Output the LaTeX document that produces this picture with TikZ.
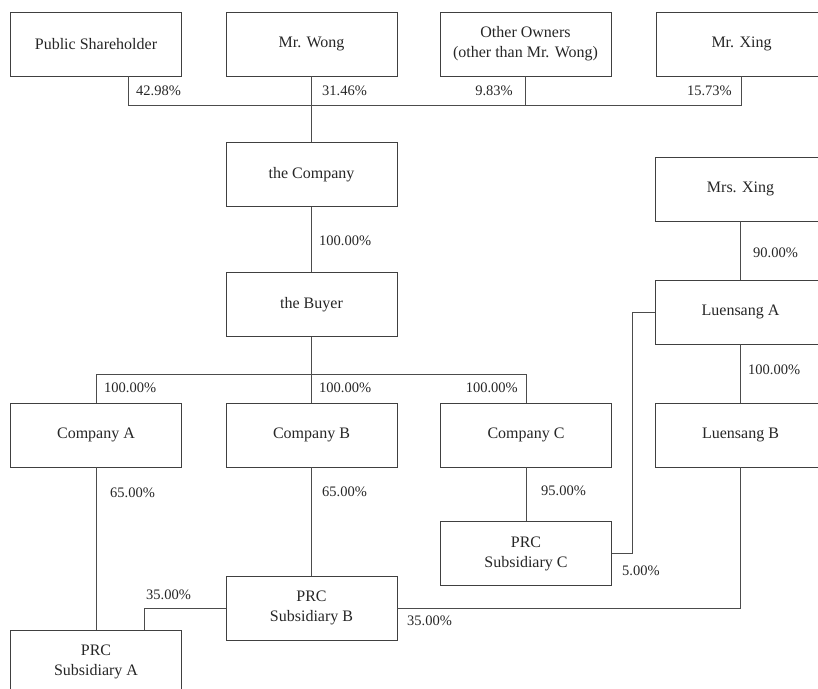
\documentclass[tikz,border=0pt]{standalone}
\usepackage{fontspec}
\setmainfont{Liberation Serif}
\begin{document}
\begin{tikzpicture}[x=1pt,y=-1pt,
entity/.style={draw=black!75,line width=0.9pt,minimum width=171pt,minimum height=64pt,
  inner sep=0pt,align=center,text=black!85,font=\fontsize{16}{20}\selectfont},
pct/.style={inner sep=0pt,text=black!85,font=\fontsize{14.5}{17}\selectfont},
link/.style={draw=black!70,line width=0.9pt}
]
\useasboundingbox (0,0) rectangle (818,688);
\clip (0,0) rectangle (818,688);
% owners
\node[entity] (pub) at (96,44) {Public Shareholder};
\node[entity] (wong) at (311.5,44) {Mr. Wong};
\node[entity] (other) at (525.5,44) {Other Owners\\(other than Mr. Wong)};
\node[entity] (xing) at (741.5,44) {Mr. Xing};
\node[entity] (company) at (311.5,174.5) {the Company};
\node[entity] (buyer) at (311.5,304.5) {the Buyer};
\node[entity] (mrsxing) at (740.5,189) {Mrs. Xing};
\node[entity] (luenA) at (740.5,312) {Luensang A};
\node[entity] (luenB) at (740.5,435) {Luensang B};
\node[entity] (coA) at (96,435) {Company A};
\node[entity] (coB) at (311.5,435) {Company B};
\node[entity] (coC) at (526,435) {Company C};
\node[entity] (subC) at (526,553.5) {PRC\\Subsidiary C};
\node[entity] (subB) at (311.5,608) {PRC\\Subsidiary B};
\node[entity] (subA) at (96,662) {PRC\\Subsidiary A};
\coordinate (bus) at (311.5,105);
\coordinate (bus2) at (311.5,374);
% links
\draw[link] ([xshift=32pt]pub.south) |- (bus);
\draw[link] (xing.south) |- (bus);
\draw[link] (other.south) -- (other.south |- bus);
\draw[link] (wong.south) -- (company.north);
\draw[link] (company.south) -- (buyer.north);
\draw[link] (coA.north) |- (bus2);
\draw[link] (coC.north) |- (bus2);
\draw[link] (buyer.south) -- (coB.north);
\draw[link] (mrsxing.south) -- (luenA.north);
\draw[link] (luenA.south) -- (luenB.north);
\draw[link] (coA.south) -- (subA.north);
\draw[link] (coB.south) -- (subB.north);
\draw[link] (coC.south) -- (subC.north);
\draw[link] (luenA.west) -- ++(-22,0) |- (subC.east);
\draw[link] (luenB.south) |- (subB.east);
\draw[link] (subB.west) -| ([xshift=48pt]subA.north);
% percentages
\node[pct,anchor=west] (p1) at (136,91) {42.98\%};
\node[pct,anchor=west] (p2) at (322,91) {31.46\%};
\node[pct,anchor=east] (p3) at (513,91) {9.83\%};
\node[pct,anchor=east] (p4) at (732,91) {15.73\%};
\node[pct,anchor=west] (p5) at (319,241) {100.00\%};
\node[pct,anchor=west] (p6) at (104,388) {100.00\%};
\node[pct,anchor=west] (p7) at (319,388) {100.00\%};
\node[pct,anchor=east] (p8) at (518,388) {100.00\%};
\node[pct,anchor=west] (p9) at (753,253) {90.00\%};
\node[pct,anchor=west] (p10) at (748,370) {100.00\%};
\node[pct,anchor=west] (p11) at (110,493) {65.00\%};
\node[pct,anchor=west] (p12) at (322,492) {65.00\%};
\node[pct,anchor=west] (p13) at (541,491) {95.00\%};
\node[pct,anchor=west] (p14) at (622,571) {5.00\%};
\node[pct,anchor=west] (p15) at (407,621) {35.00\%};
\node[pct,anchor=west] (p16) at (146,595) {35.00\%};
\end{tikzpicture}
\end{document}
